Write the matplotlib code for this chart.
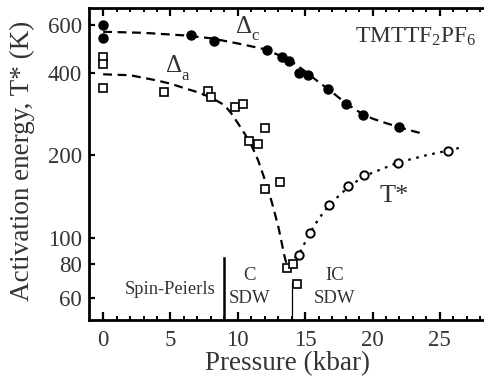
import matplotlib.pyplot as plt
import numpy as np

plt.rcParams['font.family'] = ['Liberation Serif', 'DejaVu Serif']
plt.rcParams['mathtext.fontset'] = 'custom'
plt.rcParams['mathtext.rm'] = 'Liberation Serif'

TXT = '#333333'

# Delta_c : filled circles
dc_p = [0, 0, 6.5, 8.2, 12.2, 13.3, 13.8, 14.55, 15.2, 16.7, 18.0, 19.3, 22.0]
dc_e = [600, 535, 550, 524, 486, 455, 440, 400, 393, 349, 307, 280, 253]
# dashed guide for Delta_c
dc_fit_p = [0, 3, 6, 8, 10, 12, 13, 14, 15, 16, 17, 18, 19, 20, 21, 22, 23, 23.7]
dc_fit_e = [565, 560, 548, 535, 512, 488, 465, 440, 405, 370, 340, 310, 288, 272, 262, 253, 245, 240]

# Delta_a : open squares
da_p = [0, 0, 0, 4.5, 7.8, 8.0, 9.8, 10.4, 10.8, 11.5, 12.0, 12.0, 13.1, 13.66, 14.1, 14.4]
da_e = [455, 430, 352, 341, 343, 326, 300, 307, 226, 219, 251, 151, 159, 77.5, 80, 67.7]
da_fit_p = [0, 2, 4, 5, 6, 7, 8, 9, 9.5, 10, 10.5, 11, 11.5, 12, 12.5, 13, 13.5, 13.7]
da_fit_e = [395, 392, 375, 365, 352, 340, 325, 305, 285, 262, 240, 218, 192, 163, 136, 110, 84, 78]

# T* : open circles
ts_p = [14.55, 15.35, 16.8, 18.2, 19.4, 21.9, 25.6]
ts_e = [86.6, 104, 132, 155, 169, 188, 208]
ts_fit_p = [13.8, 14.6, 15.3, 16, 16.8, 18.2, 19.4, 21.9, 24, 25.6, 26.7]
ts_fit_e = [80, 88, 103, 117, 132, 153, 168, 188, 200, 208, 214]

yticks = [60, 80, 100, 200, 400, 600]
xticks = [0, 5, 10, 15, 20, 25]

fig = plt.figure(figsize=(4.85, 3.81), dpi=100)
ax = fig.add_axes([89 / 485, 61 / 381, 398 / 485, 312 / 381])

# guide lines
ax.plot(dc_fit_p, dc_fit_e, color='black', lw=1.6, dashes=(4, 2.5))
ax.plot(da_fit_p, da_fit_e, color='black', lw=1.6, dashes=(4, 2.5))
ax.plot(ts_fit_p, ts_fit_e, color='black', lw=1.6, dashes=(1.2, 2.5))

# phase boundaries
ax.plot([9.0, 9.0], [50, 84], color='black', lw=1.8)
ax.plot([14.0, 14.0], [50, 68], color='black', lw=0.9)

# data points
ax.plot(dc_p, dc_e, 'o', color='black', ms=6.5)
ax.plot(da_p, da_e, 's', mfc='white', mec='black', ms=5.5, mew=1.2)
ax.plot(ts_p, ts_e, 'o', mfc='white', mec='black', ms=6, mew=1.4)

ax.set_yscale('log')
ax.set_xlim(-1.05, 28.5)
ax.set_ylim(50, 690)
ax.set_yticks(yticks)
ax.set_yticklabels([str(v) for v in yticks])
ax.yaxis.set_minor_locator(plt.NullLocator())
ax.set_xticks(xticks)
ax.set_xticks(np.arange(0, 29, 1), minor=True)

for s in ['left', 'bottom', 'top', 'right']:
    ax.spines[s].set_linewidth(2)
ax.tick_params(which='major', direction='in', length=6, width=1.6, top=True,
               labelsize=16.5, labelcolor=TXT, pad=7)
ax.tick_params(which='minor', direction='in', length=3, width=1.4, top=True)
ax.tick_params(axis='y', which='major', length=4, pad=5)

ax.set_xlabel('Pressure (kbar)', fontsize=19.5, color=TXT, labelpad=0)
ax.set_ylabel('Activation energy, T* (K)', fontsize=19.5, color=TXT)
ax.yaxis.set_label_coords(-0.135, 0.51)

# annotations
ax.text(9.9, 590, 'Δ', fontsize=18, color=TXT, ha='left', va='center')
ax.text(11.0, 545, 'c', fontsize=12, color=TXT, ha='left', va='center')
ax.text(4.7, 425, 'Δ', fontsize=18, color=TXT, ha='left', va='center')
ax.text(5.8, 388, 'a', fontsize=12, color=TXT, ha='left', va='center')
ax.text(18.7, 543, r'TMTTF$_2$PF$_6$', fontsize=16.8, color=TXT, ha='left', va='center')
ax.text(20.5, 142, 'T*', fontsize=19, color=TXT, ha='left', va='center')
ax.text(5.0, 64.5, 'Spin-Peierls', fontsize=13.3, color=TXT, ha='center', va='center')
ax.text(10.85, 73, 'C', fontsize=13.5, color=TXT, ha='center', va='center')
ax.text(10.85, 60, 'SDW', fontsize=13.5, color=TXT, ha='center', va='center')
ax.text(17.2, 73, 'IC', fontsize=13.5, color=TXT, ha='center', va='center')
ax.text(17.2, 60, 'SDW', fontsize=13.5, color=TXT, ha='center', va='center')

fig.savefig('out.png', dpi=100)
